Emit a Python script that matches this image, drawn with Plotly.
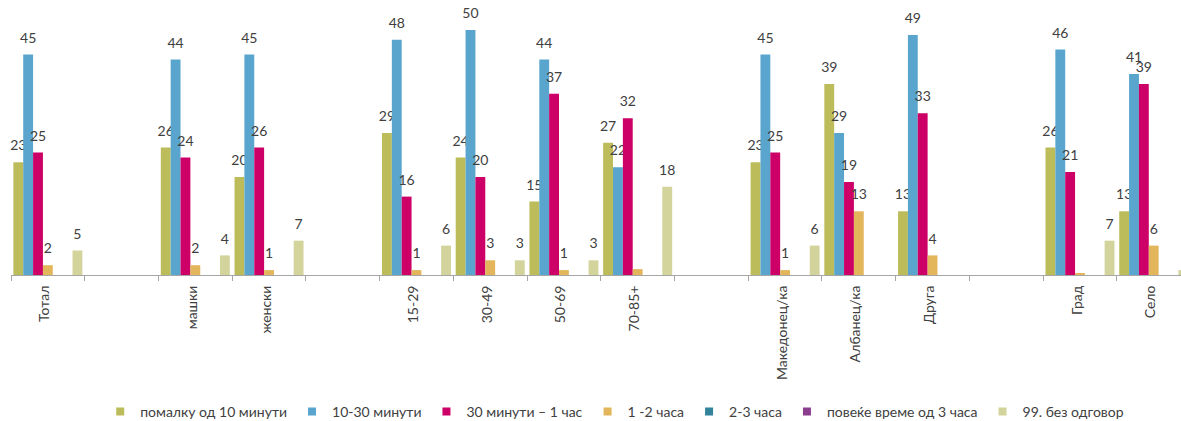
import plotly.graph_objects as go

categories = ["Тотал", " ", "машки", "женски", "  ", "15-29", "30-49", "50-69", "70-85+",
              "   ", "Македонец/ка", "Албанец/ка", "Друга", "    ", "Град", "Село"]

series_names = ["помалку од 10 минути", "10-30 минути", "30 минути – 1 час", "1 -2 часа",
                "2-3 часа", "повеќе време од 3 часа", "99. без одговор"]

less_10 = [23, None, 26, 20, None, 29, 24, 15, 27, None, 23, 39, 13, None, 26, 13]
m10_30 = [45, None, 44, 45, None, 48, 50, 44, 22, None, 45, 29, 49, None, 46, 41]
m30_60 = [25, None, 24, 26, None, 16, 20, 37, 32, None, 25, 19, 33, None, 21, 39]
h1_2 = [2, None, 2, 1, None, 1, 3, 1, 1.2, None, 1, 13, 4, None, 0.4, 6]
h2_3 = [0, None, 0, 0, None, 0, 0, 0, 0, None, 0, 0, 0, None, 0, 0]
h3_plus = [0, None, 0, 0, None, 0, 0, 0, 0, None, 0, 0, 0, None, 0, 0]
no_answer = [5, None, 4, 7, None, 6, 3, 3, 18, None, 6, 0, 0, None, 7, 1]

# data labels not shown in the original for these (series, category) points
hidden_labels = {("1 -2 часа", "70-85+"), ("1 -2 часа", "Град")}

all_values = [less_10, m10_30, m30_60, h1_2, h2_3, h3_plus, no_answer]
colors = ["#BDBC5B", "#59A5CE", "#CC0066", "#E3B65B", "#31849B", "#8B3D8E", "#D3D49B"]

FONT = "Lato"
label_pad = 1.2  # gap (in axis units) between bar top and its label

fig = go.Figure()
for name, vals, col in zip(series_names, all_values, colors):
    fig.add_trace(go.Bar(
        x=categories, y=vals, name=name, marker=dict(color=col, line=dict(width=0)),
        offsetgroup=name, showlegend=False, hoverinfo="skip",
    ))
    labels = []
    for c, v in zip(categories, vals):
        if v is None or v == 0 or (name, c) in hidden_labels:
            labels.append("")
        else:
            labels.append(str(round(v)))
    fig.add_trace(go.Bar(
        x=categories, base=vals,
        y=[None if v is None else label_pad for v in vals],
        marker=dict(color="rgba(0,0,0,0)", line=dict(width=0)),
        offsetgroup=name, showlegend=False,
        text=labels, textposition="outside", constraintext="none", cliponaxis=False,
        textfont=dict(family=FONT, size=14, color="#404040"), hoverinfo="skip",
    ))
    fig.add_trace(go.Scatter(
        x=[None], y=[None], mode="markers", name=name,
        marker=dict(symbol="square", size=8, color=col),
    ))

fig.update_layout(
    template="none",
    width=1181, height=421,
    margin=dict(l=11, r=0, t=5, b=146),
    paper_bgcolor="white", plot_bgcolor="white",
    barmode="group", bargap=0.064, bargroupgap=0,
    font=dict(family=FONT, color="#404040"),
    legend=dict(orientation="h", x=0.516, xanchor="center", y=0.0214, yref="container",
                yanchor="middle", font=dict(family=FONT, size=14, color="#404040"),
                itemwidth=30, traceorder="normal", bgcolor="rgba(0,0,0,0)"),
    xaxis=dict(
        type="category", categoryorder="array", categoryarray=categories,
        range=[-0.5, 15.37], tickson="boundaries", ticks="outside", ticklen=5,
        tickcolor="#A6A6A6", showline=True, linecolor="#A6A6A6", linewidth=1,
        tickangle=-90, tickfont=dict(family=FONT, size=14, color="#404040"),
        showgrid=False, zeroline=False, ticklabelstandoff=4, ticklabelshift=-3,
    ),
    yaxis=dict(range=[0, 55.1], visible=False, showgrid=False, zeroline=False),
)

fig.write_html("out.html", config={"displayModeBar": False},
               post_script="document.body.style.margin='0';")
